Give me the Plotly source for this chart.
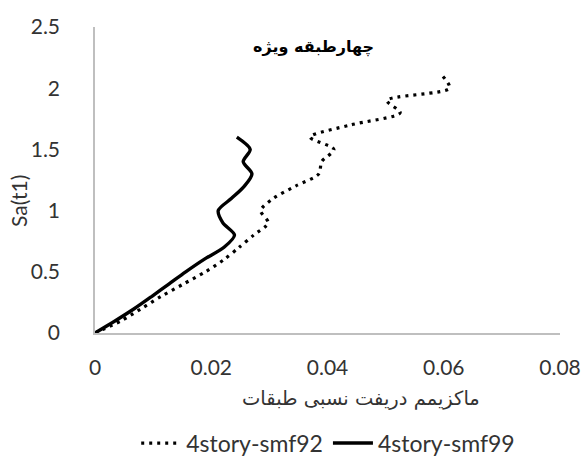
import plotly.graph_objects as go

# Data
sa_92 = [0, 0.1, 0.2, 0.3, 0.4, 0.5, 0.6, 0.7, 0.8, 0.9, 1.0, 1.1, 1.2, 1.3, 1.4, 1.5, 1.6, 1.7, 1.8, 1.9, 2.0, 2.1]
drift_92 = [0, 0.0045, 0.0080, 0.0114, 0.0152, 0.0190, 0.0222, 0.0248, 0.0273, 0.0298, 0.0285, 0.0307,
            0.0345, 0.0385, 0.0390, 0.0411, 0.0370, 0.0440, 0.0525, 0.0502, 0.0610, 0.0598]

sa_99 = [0, 0.1, 0.2, 0.3, 0.4, 0.5, 0.6, 0.7, 0.8, 0.9, 1.0, 1.1, 1.2, 1.3, 1.4, 1.5, 1.6]
drift_99 = [0, 0.0035, 0.0068, 0.0098, 0.0127, 0.0156, 0.0187, 0.0222, 0.0240, 0.0220, 0.0212, 0.0235,
            0.0257, 0.0270, 0.0255, 0.0267, 0.0244]

name_92 = "4story-smf92"
name_99 = "4story-smf99"
title_text = "چهارطبقه ویژه"
x_title = "ماکزیمم دریفت نسبی طبقات"
y_title = "Sa(t1)"
x_ticks = [0, 0.02, 0.04, 0.06, 0.08]
y_ticks = [0, 0.5, 1, 1.5, 2, 2.5]

fig = go.Figure()
fig.add_trace(go.Scatter(x=drift_92, y=sa_92, mode="lines", name=name_92,
                         line=dict(color="black", width=3.2, dash="3px,5px", shape="spline", smoothing=0.8)))
fig.add_trace(go.Scatter(x=drift_99, y=sa_99, mode="lines", name=name_99,
                         line=dict(color="black", width=3.4, shape="spline", smoothing=0.8)))

tick_font = dict(family="Lato, DejaVu Sans, sans-serif", size=21, color="#333333")
axis_common = dict(showgrid=False, zeroline=False, showline=True, linecolor="#bfbfbf", linewidth=1.5,
                   ticks="", tickfont=tick_font, automargin=False)

fig.update_layout(
    width=584, height=464,
    margin=dict(l=95, r=24, t=27, b=131, autoexpand=False),
    plot_bgcolor="white", paper_bgcolor="white",
    xaxis=dict(range=[0, 0.08], tickvals=x_ticks, ticktext=[("%g" % v) for v in x_ticks],
               ticklabelstandoff=15, **axis_common),
    yaxis=dict(range=[0, 2.5], tickvals=y_ticks, ticktext=[("%g" % v) for v in y_ticks],
               ticklabelstandoff=29, **axis_common),
    showlegend=True,
    legend=dict(orientation="h", xref="container", yref="container", x=0.562, xanchor="center",
                y=0.045, yanchor="middle",
                font=dict(family="Lato, DejaVu Sans, sans-serif", size=23, color="#333333"),
                itemwidth=40, bgcolor="rgba(0,0,0,0)"),
    annotations=[
        dict(text="<b>" + title_text + "</b>", xref="paper", yref="paper", x=0.47, y=0.935,
             xanchor="center", yanchor="middle", showarrow=False,
             font=dict(family="DejaVu Sans, sans-serif", size=16, color="black")),
        dict(text=x_title, xref="paper", yref="paper", x=0.572, y=-0.214,
             xanchor="center", yanchor="middle", showarrow=False,
             font=dict(family="DejaVu Sans, sans-serif", size=19.5, color="#333333")),
        dict(text=y_title, xref="paper", yref="paper", x=-0.166, y=0.431,
             xanchor="center", yanchor="middle", showarrow=False, textangle=-90,
             font=dict(family="Lato, DejaVu Sans, sans-serif", size=21, color="#333333")),
    ],
)

fig.write_html("out.html")
